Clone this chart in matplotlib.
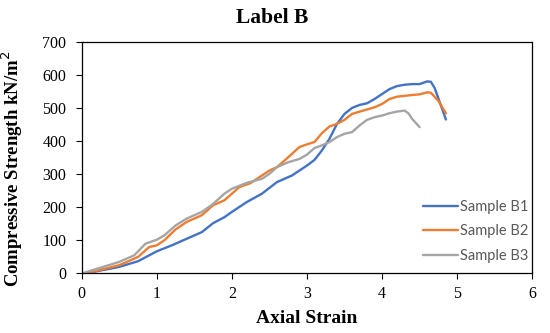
import numpy as np
import matplotlib.pyplot as plt

# Dados
x_b1 = [0.05, 0.5, 0.75, 1.0, 1.2, 1.4, 1.6, 1.75, 1.9, 2.0, 2.2, 2.4, 2.6, 2.8, 3.0, 3.1, 3.2, 3.3,
        3.4, 3.5, 3.6, 3.7, 3.8, 3.9, 4.0, 4.1, 4.2, 4.3, 4.4, 4.5, 4.6, 4.65, 4.7, 4.85]
y_b1 = [0, 20, 37, 67, 85, 105, 125, 152, 170, 186, 216, 241, 276, 296, 326, 343, 372, 407,
        452, 482, 500, 509, 514, 527, 542, 557, 566, 570, 572, 572, 580, 579, 560, 465]

x_b2 = [0.05, 0.5, 0.75, 0.9, 1.0, 1.1, 1.25, 1.4, 1.6, 1.75, 1.9, 2.0, 2.1, 2.25, 2.4, 2.5, 2.6,
        2.75, 2.9, 3.0, 3.1, 3.2, 3.3, 3.4, 3.5, 3.6, 3.75, 3.9, 4.0, 4.1, 4.2, 4.4, 4.5, 4.6,
        4.65, 4.75, 4.85]
y_b2 = [0, 25, 50, 80, 85, 100, 133, 156, 176, 206, 221, 241, 261, 273, 296, 311, 321,
        351, 382, 390, 397, 424, 444, 452, 464, 482, 492, 502, 512, 527, 534, 539, 541, 547,
        546, 521, 484]

x_b3 = [0.0, 0.5, 0.7, 0.85, 1.0, 1.1, 1.25, 1.4, 1.6, 1.75, 1.9, 2.0, 2.2, 2.4, 2.5, 2.6, 2.75,
        2.9, 3.0, 3.1, 3.2, 3.3, 3.4, 3.5, 3.6, 3.7, 3.8, 3.9, 4.0, 4.1, 4.2, 4.3, 4.35, 4.4, 4.5]
y_b3 = [0, 35, 55, 90, 102, 115, 145, 166, 186, 210, 241, 256, 274, 286, 301, 321, 336,
        346, 359, 379, 387, 397, 412, 422, 427, 447, 464, 472, 477, 484, 489, 492, 484, 467, 442]

series = [
    ('Sample B1', x_b1, y_b1, '#4472C4'),
    ('Sample B2', x_b2, y_b2, '#ED7D31'),
    ('Sample B3', x_b3, y_b3, '#A5A5A5'),
]

fig = plt.figure(figsize=(5.5, 3.33), dpi=100)
ax = fig.add_axes([0.1485, 0.1787, 0.8193, 0.6961])

for nome, xs, ys, cor in series:
    ax.plot(xs, ys, color=cor, linewidth=1.7, label=nome, solid_capstyle='round')

ax.set_xlim(0, 6)
ax.set_ylim(0, 700)
ax.set_xticks(range(0, 7))
ax.set_yticks(range(0, 701, 100))
for lbl in ax.get_xticklabels() + ax.get_yticklabels():
    lbl.set_family('Liberation Serif')
    lbl.set_fontsize(11.5)
ax.tick_params(direction='out', length=4, width=0.8)
ax.tick_params(axis='y', pad=7)
ax.tick_params(axis='x', pad=5)
for s in ax.spines.values():
    s.set_linewidth(0.9)

fig.text(0.4955, 0.945, 'Label B', fontsize=15.5, fontweight='bold', family='Liberation Serif',
         ha='center', va='center')
ax.set_xlabel('Axial Strain', fontsize=14, fontweight='bold', family='Liberation Serif', labelpad=6)
ax.set_ylabel('Compressive Strength kN/m$^2$', fontsize=13.5, fontweight='bold',
              family='Liberation Serif')
ax.yaxis.set_label_coords(-0.126, 0.453)

leg = ax.legend(loc='lower right', frameon=False, prop={'family': 'Lato', 'size': 10.5},
                handlelength=2.4, handletextpad=0.1, labelspacing=0.72,
                bbox_to_anchor=(1.02, -0.01))
for t in leg.get_texts():
    t.set_color('#595959')

fig.savefig('out.png', dpi=100)
